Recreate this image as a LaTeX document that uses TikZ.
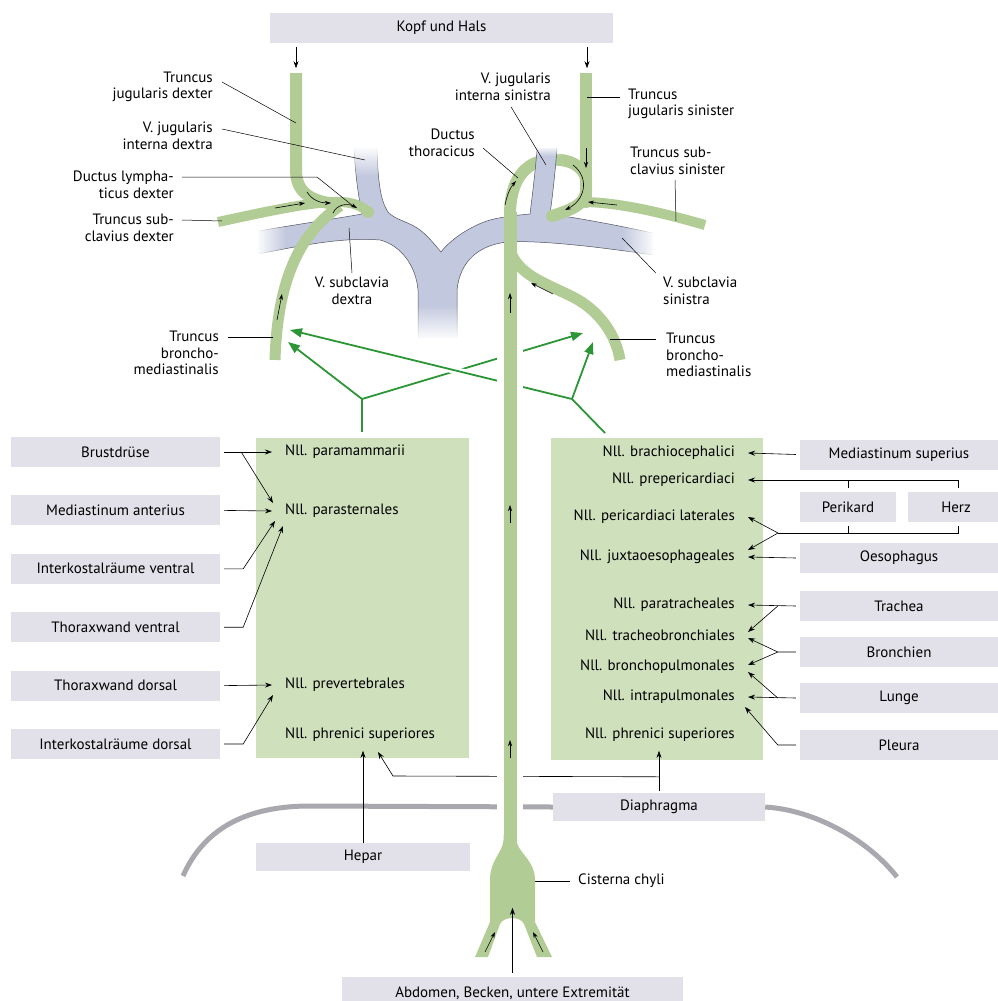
\documentclass[tikz,border=0pt]{standalone}
\usepackage{fontspec}
\setmainfont{PT Sans}
\usetikzlibrary{arrows.meta,positioning,fadings}

\definecolor{lymph}{RGB}{178,204,150}
\definecolor{gruppe}{RGB}{207,224,189}
\definecolor{vene}{RGB}{194,200,222}
\definecolor{venenrand}{RGB}{80,82,95}
\definecolor{organ}{RGB}{226,225,233}
\definecolor{gruen}{RGB}{44,150,54}
\definecolor{zwerchfell}{RGB}{168,168,174}

\tikzfading[name=ausW, left color=transparent!0, right color=transparent!100]
\tikzfading[name=ausO, left color=transparent!100, right color=transparent!0]
\tikzfading[name=ausN, top color=transparent!0, bottom color=transparent!100]
\tikzfading[name=ausS, top color=transparent!100, bottom color=transparent!0]

\tikzset{
  organbox/.style = {fill=organ, minimum height=30pt, inner sep=0pt},
  gruppenbox/.style = {fill=gruppe, inner sep=0pt},
  nll/.style = {inner sep=2pt},
  lbl/.style = {inner sep=0pt, align=right},
  pfeil/.style = {-{Stealth[length=7pt,width=5pt]}, line width=0.6pt},
  leit/.style = {line width=0.5pt},
  gline/.style = {gruen, line width=1.8pt},
  gpfeil/.style = {gline, -{Triangle[length=12pt,width=9pt]}},
  gefaess/.style = {lymph, line width=12pt},
  fluss/.style = {-{Stealth[length=6pt,width=4pt]}, line width=0.6pt},
  zwf/.style = {zwerchfell, line width=5pt}
}

\begin{document}
\begin{tikzpicture} [x=1pt, y=-1pt, node distance = 28pt, font=\fontsize{15}{16.5}\selectfont]
    \useasboundingbox (0,0) rectangle (998,1001);

    % place nodes
    \node [gruppenbox, minimum width=213pt, minimum height=320pt, anchor=north west] (lgrp) at (256,438) {};
    \node [gruppenbox, minimum width=212pt, minimum height=322pt, anchor=north west] (rgrp) at (551,438) {};

    \node [organbox, minimum width=343pt] (kopf) at (441.5,28) {Kopf und Hals};
    \node [organbox, minimum width=209pt] (brust) at (115.5,452) {Brustdrüse};
    \node [organbox, minimum width=209pt, below = of brust] (medant) {Mediastinum anterius};
    \node [organbox, minimum width=209pt, below = of medant] (ikrv) {Interkostalräume ventral};
    \node [organbox, minimum width=209pt, below = of ikrv] (thwv) {Thoraxwand ventral};
    \node [organbox, minimum width=209pt, below = of thwv] (thwd) {Thoraxwand dorsal};
    \node [organbox, minimum width=209pt, below = of thwd] (ikrd) {Interkostalräume dorsal};

    \node [organbox, minimum width=198pt] (medsup) at (899,454.5) {Mediastinum superius};
    \node [organbox, minimum width=96pt] (perikard) at (848,507) {Perikard};
    \node [organbox, minimum width=90pt] (herz) at (953,507) {\hspace*{6pt}Herz};
    \node [organbox, minimum width=198pt] (oeso) at (899,558) {Oesophagus};
    \node [organbox, minimum width=198pt] (trachea) at (899,606) {Trachea};
    \node [organbox, minimum width=198pt] (bronchien) at (899,652) {Bronchien};
    \node [organbox, minimum width=198pt] (lunge) at (899,698) {Lunge};
    \node [organbox, minimum width=198pt] (pleura) at (899,745) {Pleura};

    \node [organbox, minimum width=212pt, minimum height=28pt] (diaphragma) at (659,807) {Diaphragma};
    \node [organbox, minimum width=214pt, minimum height=28pt] (hepar) at (363,857) {Hepar};
    \node [organbox, minimum width=341pt, minimum height=32pt] (abdomen) at (512.5,993) {Abdomen, Becken, untere Extremität};

    \node [nll, anchor=west] (paramamm) at (283,452) {Nll. paramammarii};
    \node [nll, anchor=west] (parastern) at (283,511) {Nll. parasternales};
    \node [nll, anchor=west] (prevert) at (283,685) {Nll. prevertebrales};
    \node [nll, anchor=west] (phrenL) at (283,735) {Nll. phrenici superiores};

    \node [nll, anchor=east] (brachio) at (737,453) {Nll. brachiocephalici};
    \node [nll, anchor=east] (preperi) at (737,480) {Nll. prepericardiaci};
    \node [nll, anchor=east] (perilat) at (737,517) {Nll. pericardiaci laterales};
    \node [nll, anchor=east] (juxta) at (737,557) {Nll. juxtaoesophageales};
    \node [nll, anchor=east] (paratrach) at (737,605) {Nll. paratracheales};
    \node [nll, anchor=east] (tracheo) at (737,635) {Nll. tracheobronchiales};
    \node [nll, anchor=east] (bronchopulm) at (737,667) {Nll. bronchopulmonales};
    \node [nll, anchor=east] (intrapulm) at (737,697) {Nll. intrapulmonales};
    \node [nll, anchor=east] (phrenR) at (737,735) {Nll. phrenici superiores};

    % labels of the vessels
    \node [lbl, anchor=east] (ltjd) at (213,87) {Truncus\\jugularis dexter};
    \node [lbl, anchor=east] (lvjd) at (213,136) {V. jugularis\\interna dextra};
    \node [lbl, anchor=east] (ldld) at (174,185) {Ductus lympha-\\ticus dexter};
    \node [lbl, anchor=east] (ltsd) at (174,228) {Truncus sub-\\clavius dexter};
    \node [lbl, align=center] (lvsd) at (352,291) {V. subclavia\\dextra};
    \node [lbl, anchor=east] (ltbd) at (219,353) {Truncus\\broncho-\\mediastinalis};
    \node [lbl, anchor=east] (ldt) at (475,143) {Ductus\\thoracicus};
    \node [lbl, anchor=east] (lvjs) at (551,87) {V. jugularis\\interna sinistra};
    \node [lbl, anchor=west, align=left] (ltjs) at (628,104) {Truncus\\jugularis sinister};
    \node [lbl, anchor=west, align=left] (ltss) at (630,161) {Truncus sub-\\clavius sinister};
    \node [lbl, anchor=west, align=left] (lvss) at (663,291) {V. subclavia\\sinistra};
    \node [lbl, anchor=west, align=left] (ltbs) at (666,355) {Truncus\\broncho-\\mediastinalis};
    \node [lbl, anchor=west] (lcc) at (578,881) {Cisterna chyli};

    % points on the vessels
    \coordinate (tjdP) at (296,123);
    \coordinate (vjdP) at (365,160);
    \coordinate (dldP) at (353,206);
    \coordinate (tsdP) at (222,221);
    \coordinate (vsdP) at (349,228);
    \coordinate (tbdP) at (273,337);
    \coordinate (dtP) at (518,178);
    \coordinate (vjsP) at (546,165);
    \coordinate (tjsP) at (587,97);
    \coordinate (tssP) at (676,221);
    \coordinate (vssP) at (622,238);
    \coordinate (tbsP) at (610,339);
    \coordinate (ccP) at (520,881);

    \coordinate (gabelL) at (362,399);
    \coordinate (gabelR) at (572,399);
    \coordinate (bmdexA) at (288,342);
    \coordinate (bmdexB) at (290,330);
    \coordinate (bmsinA) at (583,333);
    \coordinate (bmsinB) at (593,342);
    \coordinate (zwKnick) at (393,776);
    \coordinate (phrenLZiel) at (378,752);

    % diaphragm
    \draw [zwf] (183,876) .. controls (205,826) and (250,806) .. (310,806) -- (diaphragma.west);
    \draw [zwf] (diaphragma.east) .. controls (815,810) and (868,840) .. (897,877);

    % lymph vessels behind the vein
    \draw [gefaess] (510,215) .. controls (510,180) and (525,162) .. (548,160) .. controls (568,158) and (582,165) .. (586,178);

    % veins
    \fill [vene] (258,231) .. controls (300,224) and (340,218) .. (362,214)
      .. controls (358,195) and (355,170) .. (354,148) -- (377,148)
      .. controls (378,180) and (380,200) .. (388,212)
      .. controls (395,220) and (410,222) .. (420,230)
      .. controls (428,236) and (435,245) .. (441,252)
      .. controls (450,240) and (470,226) .. (490,220)
      .. controls (505,216) and (520,215) .. (530,214)
      .. controls (533,190) and (536,165) .. (537,148) -- (557,148)
      .. controls (555,175) and (552,200) .. (550,214)
      .. controls (590,220) and (620,226) .. (653,233) -- (653,255)
      .. controls (600,247) and (540,240) .. (507,242)
      .. controls (480,245) and (460,260) .. (457,290) -- (457,338) -- (418,338) -- (418,290)
      .. controls (416,265) and (400,245) .. (380,240)
      .. controls (340,237) and (300,246) .. (258,254) -- cycle;
    \draw [venenrand, line width=0.5pt] (258,231) .. controls (300,224) and (340,218) .. (362,214)
      .. controls (358,195) and (355,170) .. (354,148)
      (377,148) .. controls (378,180) and (380,200) .. (388,212)
      .. controls (395,220) and (410,222) .. (420,230)
      .. controls (428,236) and (435,245) .. (441,252)
      .. controls (450,240) and (470,226) .. (490,220)
      .. controls (505,216) and (520,215) .. (530,214)
      .. controls (533,190) and (536,165) .. (537,148)
      (557,148) .. controls (555,175) and (552,200) .. (550,214)
      .. controls (590,220) and (620,226) .. (653,233)
      (653,255) .. controls (600,247) and (540,240) .. (507,242)
      .. controls (480,245) and (460,260) .. (457,290) -- (457,338)
      (418,338) -- (418,290)
      .. controls (416,265) and (400,245) .. (380,240)
      .. controls (340,237) and (300,246) .. (258,254);
    % faded ends of the veins
    \fill [white, path fading=ausW] (256,222) rectangle (286,260);
    \fill [white, path fading=ausO] (622,226) rectangle (655,260);
    \fill [white, path fading=ausN] (350,146) rectangle (382,176);
    \fill [white, path fading=ausN] (533,146) rectangle (561,156);
    \fill [white, path fading=ausS] (414,305) rectangle (461,340);

    % lymph vessels, right side of the body
    \draw [gefaess] (296,73) -- (296,170) .. controls (296,192) and (310,201) .. (335,204);
    \draw [gefaess, line width=10pt] (218,222) .. controls (260,213) and (300,204) .. (330,202) .. controls (348,201) and (360,204) .. (368,212);
    \fill [lymph] (368,212) circle [radius=6pt];
    \draw [gefaess, line width=11pt] (275,360) .. controls (277,295) and (292,238) .. (340,206);

    % lymph vessels, left side of the body
    \draw [gefaess] (586,73) -- (586,198);
    \draw [gefaess, line width=10pt] (705,225) .. controls (660,212) and (620,203) .. (586,202);
    \fill [lymph] (586,202) circle [radius=6pt];
    \draw [gefaess] (586,190) .. controls (586,205) and (570,210) .. (552,216);
    \fill [lymph] (552,216) circle [radius=6pt];
    \draw [gefaess, line width=11pt] (510,250) .. controls (518,275) and (545,283) .. (573,297) .. controls (600,311) and (616,335) .. (620,360);

    % draw edges
    \draw [pfeil] ([xshift=-145.5pt,yshift=-4pt]kopf.south) -- ++(0,21);
    \draw [pfeil] ([xshift=145.5pt,yshift=-4pt]kopf.south) -- ++(0,21);

    \draw [pfeil] ([xshift=4pt]brust.east) -- ([xshift=-11pt]paramamm.west);
    \draw [pfeil] ([xshift=21pt]brust.east) -- ([xshift=-10pt,yshift=8pt]parastern.west);
    \draw [pfeil] ([xshift=4pt]medant.east) -- ([xshift=-11pt]parastern.west);
    \draw [pfeil] ([xshift=4pt]ikrv.east) -- ([xshift=23pt]ikrv.east) -- ([xshift=-8pt,yshift=-10pt]parastern.west);
    \draw [pfeil] ([xshift=4pt]thwv.east) -- ([xshift=23pt]thwv.east) -- ([yshift=-15pt]parastern.west);
    \draw [pfeil] ([xshift=4pt]thwd.east) -- ([xshift=-11pt]prevert.west);
    \draw [pfeil] ([xshift=4pt]ikrd.east) -- ([xshift=23pt]ikrd.east) -- ([xshift=-10pt,yshift=-10pt]prevert.west);

    \draw [pfeil] ([xshift=-4pt]medsup.west) -- ([xshift=11pt]brachio.east);
    \draw ([yshift=4pt]perikard.north) -- ++(0,-8);
    \draw [pfeil] ([xshift=5pt,yshift=4pt]herz.north) |- ([xshift=11pt]preperi.east);
    \coordinate (gabelP) at (778,533);
    \draw ([yshift=-4pt]perikard.south) -- ++(0,7);
    \draw ([xshift=5pt,yshift=-4pt]herz.south) |- (gabelP);
    \draw [pfeil] (gabelP) -- ([xshift=11pt]perilat.east);
    \draw [pfeil] (gabelP) -- ([xshift=11pt,yshift=7pt]juxta.east);
    \draw [pfeil] ([xshift=-4pt]oeso.west) -- ([xshift=11pt]juxta.east);
    \draw [pfeil] ([xshift=-4pt]trachea.west) -- ([xshift=11pt]paratrach.east);
    \draw [pfeil] ([xshift=-22pt]trachea.west) -- ([xshift=11pt,yshift=3pt]tracheo.east);
    \draw [pfeil] ([xshift=-4pt]bronchien.west) -- ([xshift=-22pt]bronchien.west) -- ([xshift=11pt,yshift=-3pt]tracheo.east);
    \draw [pfeil] ([xshift=-22pt]bronchien.west) -- ([xshift=11pt,yshift=2pt]bronchopulm.east);
    \draw [pfeil] ([xshift=-4pt]lunge.west) -- ([xshift=11pt]intrapulm.east);
    \draw [pfeil] ([xshift=-22pt]lunge.west) -- ([xshift=11pt,yshift=-5pt]bronchopulm.east);
    \draw [pfeil] ([xshift=-4pt]pleura.west) -- ([xshift=-22pt]pleura.west) -- ([xshift=8pt,yshift=-10pt]intrapulm.east);

    \draw [pfeil] (hepar.north) -- ++(0,-92);
    \draw [pfeil] ([yshift=2pt]diaphragma.north) -- ++(0,-40);
    \draw [pfeil] ([yshift=16pt]diaphragma.north) -- (zwKnick) -- (phrenLZiel);

    % leader lines
    \draw [leit] ([xshift=9pt,yshift=5pt]ltjd.east) -- (tjdP);
    \draw [leit] ([xshift=9pt,yshift=7pt]lvjd.east) -- (vjdP);
    \draw [leit] ([xshift=8pt,yshift=8pt]ldld.east) -- ++(135,0) -- (dldP);
    \draw [leit] ([xshift=8pt,yshift=8pt]ltsd.east) -- (tsdP);
    \draw [leit] ([yshift=4pt]lvsd.north) -- (vsdP);
    \draw [leit] ([xshift=9pt,yshift=16pt]ltbd.east) -- (tbdP);
    \draw [leit] ([xshift=8pt,yshift=-5pt]ldt.east) -- (dtP);
    \draw [leit] ([xshift=-40pt,yshift=-6pt]lvjs.south east) -- (vjsP);
    \draw [leit] ([xshift=-8pt,yshift=7pt]ltjs.west) -- (tjsP);
    \draw [leit] ([xshift=45pt,yshift=-5pt]ltss.south west) -- (tssP);
    \draw [leit] ([xshift=-7pt,yshift=4pt]lvss.north west) -- (vssP);
    \draw [leit] ([xshift=-10pt,yshift=16pt]ltbs.west) -- (tbsP);
    \draw [leit] ([xshift=-8pt]lcc.west) -- (ccP);

    % green arrows to the trunci bronchomediastinales
    \draw [gline] (gabelL) -- ++(0,33);
    \draw [gpfeil] (gabelL) -- (bmdexA);
    \draw [gpfeil] (gabelL) -- (bmsinA);
    \draw [gpfeil, preaction={draw=white, line width=7pt, arrows=-}] (gabelR) -- (bmdexB);
    \draw [gline] (gabelR) -- (605,433);
    \draw [gpfeil] (gabelR) -- (bmsinB);

    % ductus thoracicus and cisterna chyli
    \draw [white, line width=26pt] (510,320) -- (510,840);
    \draw [gefaess, line width=13pt] (510,842) -- (510,212);
    \fill [lymph] (503.5,835) -- (503.5,840) .. controls (503,852) and (490,860) .. (490,880) -- (490,922) -- (475,957) -- (488,957) -- (500,924)
      .. controls (504,916) and (520,916) .. (524,924) -- (537,957) -- (552,957) -- (535,922) -- (535,880)
      .. controls (535,860) and (517,852) .. (516.5,840) -- (516.5,835) -- cycle;

    % flow direction
    \draw [fluss] (275,208) -- (305,203);
    \draw [fluss] (307,192) .. controls (312,200) and (320,203) .. (331,203);
    \draw [fluss] (333,213) .. controls (337,204) and (348,203) .. (357,208);
    \draw [fluss] (277,320) -- (282,294);
    \draw [fluss] (505,205) .. controls (507,195) and (510,188) .. (516,181);
    \draw [fluss] (586,148) -- (586,168);
    \draw [fluss] (573,165) .. controls (590,178) and (585,200) .. (565,210);
    \draw [fluss] (617,205) -- (588,202);
    \draw [fluss] (553,294) -- (531,283);
    \draw [fluss] (510,313) -- (510,293);
    \draw [fluss] (510,523) -- (510,505);
    \draw [fluss] (510,758) -- (510,740);
    \draw [fluss] (485,952) -- (495,932);
    \draw [fluss] (543,952) -- (533,932);
    \draw [pfeil] ([yshift=4pt]abdomen.north) -- ++(0,-65);
  \end{tikzpicture}
\end{document}
